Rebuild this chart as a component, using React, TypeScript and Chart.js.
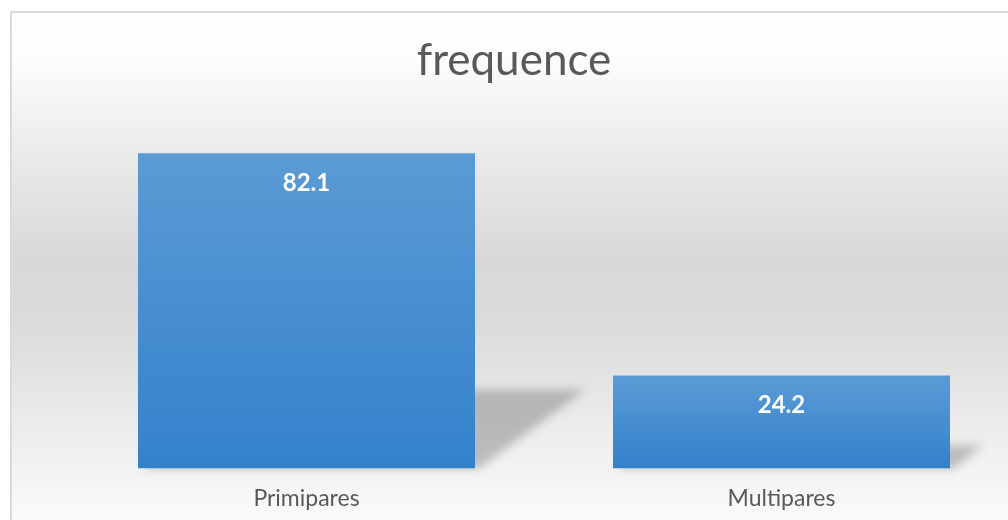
import React, { useEffect, useRef } from "react";
import { Chart, registerables } from "chart.js";

Chart.register(...registerables);

const categories = ["Primipares", "Multipares"];
const frequence = [82.1, 24.2];
const yMax = 90;
const titleText = "frequence";

const W = 1040;
const H = 540;

const backgroundPlugin = {
  id: "bgFrame",
  beforeDraw(chart: any) {
    const ctx = chart.ctx;
    ctx.save();
    ctx.fillStyle = "#ffffff";
    ctx.fillRect(0, 0, W, H);
    const g = ctx.createLinearGradient(0, 11, 0, 530);
    g.addColorStop(0, "#ffffff");
    g.addColorStop(0.1, "#fcfcfc");
    g.addColorStop(0.24, "#eeeeee");
    g.addColorStop(0.48, "#d8d8d8");
    g.addColorStop(0.62, "#dcdcdc");
    g.addColorStop(0.8, "#ececec");
    g.addColorStop(1, "#fcfcfc");
    ctx.fillStyle = g;
    ctx.fillRect(11, 12, W, H);
    ctx.strokeStyle = "#d9d9d9";
    ctx.lineWidth = 2;
    ctx.strokeRect(11, 12, W + 20, H + 20);
    // chart title
    ctx.fillStyle = "#595959";
    ctx.font = "normal 44px Lato";
    ctx.textAlign = "center";
    ctx.textBaseline = "alphabetic";
    ctx.fillText(titleText, 514, 75);
    ctx.restore();
  },
};

const shadowPlugin = {
  id: "barShadow",
  beforeDatasetsDraw(chart: any) {
    const ctx = chart.ctx;
    const meta = chart.getDatasetMeta(0);
    ctx.save();
    ctx.filter = "blur(5px)";
    ctx.fillStyle = "rgba(0,0,0,0.22)";
    meta.data.forEach((bar: any) => {
      const left = bar.x - bar.width / 2;
      const right = bar.x + bar.width / 2;
      const h = bar.base - bar.y;
      const k = h * 0.25;
      const s = h * 0.35;
      ctx.beginPath();
      ctx.moveTo(left + 4, bar.base);
      ctx.lineTo(right + 4, bar.base);
      ctx.lineTo(right + s, bar.base - k);
      ctx.lineTo(left + s, bar.base - k);
      ctx.closePath();
      ctx.fill();
    });
    ctx.restore();
  },
};

const valueLabelPlugin = {
  id: "valueLabels",
  afterDatasetsDraw(chart: any) {
    const ctx = chart.ctx;
    const meta = chart.getDatasetMeta(0);
    ctx.save();
    ctx.fillStyle = "#ffffff";
    ctx.font = "bold 24px Lato";
    ctx.textAlign = "center";
    ctx.textBaseline = "middle";
    meta.data.forEach((bar: any, i: number) => {
      ctx.fillText(String(frequence[i]), bar.x, bar.y + 30);
    });
    ctx.restore();
  },
};

export default function App() {
  const ref = useRef<HTMLCanvasElement | null>(null);
  useEffect(() => {
    if (!ref.current) return;
    const chart = new Chart(ref.current, {
      type: "bar",
      data: {
        labels: categories,
        datasets: [
          {
            label: "frequence",
            data: frequence,
            backgroundColor: (c: any) => {
              const ch = c.chart;
              if (!ch.chartArea || !ch.scales.y) return "#4a8fd2";
              const ys = ch.scales.y;
              const top = ys.getPixelForValue(c.raw);
              const bottom = ys.getPixelForValue(0);
              const g = ch.ctx.createLinearGradient(0, top, 0, bottom);
              g.addColorStop(0, "#5b9bd5");
              g.addColorStop(1, "#3481cb");
              return g;
            },
            borderWidth: 0,
            barPercentage: 1,
            categoryPercentage: 0.7095,
          },
        ],
      },
      options: {
        responsive: false,
        animation: false,
        layout: { padding: { left: 69, right: 21, top: 123, bottom: 12 } },
        plugins: {
          legend: { display: false },
          tooltip: { enabled: false },
          title: { display: false },
        },
        scales: {
          x: {
            grid: { display: false, drawTicks: false },
            border: { display: false },
            ticks: {
              color: "#595959",
              font: { family: "Lato", size: 23 },
              padding: 16,
            },
          },
          y: {
            display: false,
            min: 0,
            max: yMax,
          },
        },
      },
      plugins: [backgroundPlugin, shadowPlugin, valueLabelPlugin],
    });
    return () => chart.destroy();
  }, []);
  return (
    <div
      style={{
        position: "fixed",
        left: 0,
        top: 0,
        width: 1008,
        height: 520,
        overflow: "hidden",
        background: "#ffffff",
      }}
    >
      <canvas ref={ref} width={W} height={H} style={{ display: "block", width: W, height: H }} />
    </div>
  );
}
